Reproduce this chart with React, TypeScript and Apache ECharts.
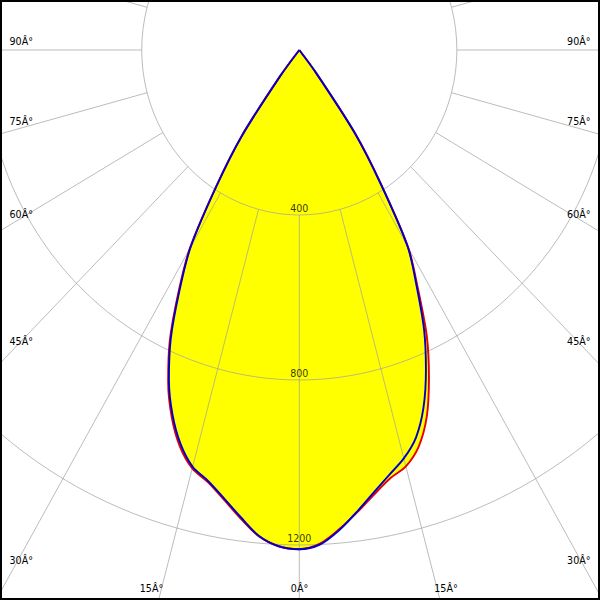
import React, { useEffect, useRef } from "react";
import * as echarts from "echarts";

// Half-plane angles (degrees from nadir) and intensities (cd)
const ANGLES = [0, 2.5, 5, 7.5, 10, 12.5, 15, 17.5, 20, 22.5, 25, 27.5, 30, 32.5, 35, 37.5, 40, 45, 60, 90, 120, 150, 180];
const BLUE_RIGHT = [1210, 1200, 1168, 1128, 1089, 1055, 1025, 985, 922, 840, 750, 645, 550, 385, 245, 70, 0, 0, 0, 0, 0, 0, 0];
const BLUE_LEFT = [1210, 1204, 1182, 1142, 1103, 1070, 1046, 1002, 941, 865, 772, 660, 552, 392, 255, 80, 0, 0, 0, 0, 0, 0, 0];
const RED_RIGHT = [1210, 1198, 1166, 1130, 1094, 1064, 1045, 1008, 946, 860, 766, 652, 553, 387, 246, 70, 0, 0, 0, 0, 0, 0, 0];
const RED_LEFT = [1212, 1204, 1183, 1145, 1106, 1073, 1050, 1008, 947, 870, 778, 666, 556, 394, 256, 80, 0, 0, 0, 0, 0, 0, 0];

const RADIUS_TICKS = [400, 800, 1200];
const SPOKE_ANGLES = [-165, -150, -135, -120, -105, -90, -75, -60, -45, -30, -15, 0, 15, 30, 45, 60, 75, 90, 105, 120, 135, 150, 165, 180];
const EDGE_LEFT = ["90Â°", "75Â°", "60Â°", "45Â°", "30Â°"];
const EDGE_BOTTOM = ["15Â°", "0Â°", "15Â°"];

// layout
const K = 0.955; // horizontal / vertical scale of the picture
const W = 600 / K;
const CX = 299.3 / K;
const CY = 50;
const RMAX = 1600;
const PX_PER_CD = 0.4125;
const GRID = "rgba(160,160,160,0.72)";
const FONT = '10px "DejaVu Sans", sans-serif';
const EDGE_LEFT_Y = [41.5, 121.5, 214.5, 341.5, 560.5];
const EDGE_BOTTOM_X = [151.5, 299.5, 446];
const EDGE_BOTTOM_Y = 588;
const SMOOTH = 0.3;

function curve(left: number[], right: number[]) {
  const pts: number[][] = [];
  for (let i = ANGLES.length - 1; i > 0; i--) pts.push([left[i], -ANGLES[i]]);
  for (let i = 0; i < ANGLES.length; i++) pts.push([right[i], ANGLES[i]]);
  return pts;
}

export default function App() {
  const ref = useRef<HTMLDivElement>(null);
  useEffect(() => {
    if (!ref.current) return;
    const chart = echarts.init(ref.current, undefined, { renderer: "svg" });
    const red = curve(RED_LEFT, RED_RIGHT);
    const blue = curve(BLUE_LEFT, BLUE_RIGHT);

    const fill = (data: number[][]) => ({
      type: "line",
      coordinateSystem: "polar",
      data,
      symbol: "none",
      silent: true,
      smooth: SMOOTH,
      z: 1,
      lineStyle: { width: 0, opacity: 0 },
      areaStyle: { color: "#ffff00", opacity: 1 },
    });
    const stroke = (data: number[][], color: string, z: number) => ({
      type: "line",
      coordinateSystem: "polar",
      data,
      symbol: "none",
      silent: true,
      smooth: SMOOTH,
      z,
      lineStyle: { width: 2, color },
    });
    const spokes = SPOKE_ANGLES.map((a) => ({
      type: "line",
      coordinateSystem: "polar",
      data: [
        [RADIUS_TICKS[0], a],
        [RMAX, a],
      ],
      symbol: "none",
      silent: true,
      z: 4,
      lineStyle: { width: 1, color: GRID },
    }));

    const graphics: any[] = [];
    EDGE_LEFT.forEach((t, i) => {
      graphics.push({
        type: "text",
        x: 9.5 / K,
        y: EDGE_LEFT_Y[i],
        z: 10,
        style: { text: t, font: FONT, fill: "#000", align: "left", textAlign: "left", verticalAlign: "middle", textVerticalAlign: "middle" },
      });
      graphics.push({
        type: "text",
        x: 590.5 / K,
        y: EDGE_LEFT_Y[i],
        z: 10,
        style: { text: t, font: FONT, fill: "#000", align: "right", textAlign: "right", verticalAlign: "middle", textVerticalAlign: "middle" },
      });
    });
    EDGE_BOTTOM.forEach((t, i) => {
      graphics.push({
        type: "text",
        x: EDGE_BOTTOM_X[i] / K,
        y: EDGE_BOTTOM_Y,
        z: 10,
        style: { text: t, font: FONT, fill: "#000", align: "center", textAlign: "center", verticalAlign: "middle", textVerticalAlign: "middle" },
      });
    });

    chart.setOption({
      animation: false,
      backgroundColor: "#ffffff",
      polar: { center: [CX, CY], radius: RMAX * PX_PER_CD },
      angleAxis: {
        type: "value",
        min: -180,
        max: 180,
        startAngle: 90,
        clockwise: false,
        axisLine: { show: false },
        axisTick: { show: false },
        axisLabel: { show: false },
        splitLine: { show: false },
      },
      radiusAxis: {
        type: "value",
        min: 0,
        max: RMAX,
        interval: 400,
        z: 4,
        axisLine: { show: false },
        axisTick: { show: false },
        axisLabel: { show: false },
        splitLine: { show: true, lineStyle: { color: GRID, width: 1 } },
      },
      series: [
        fill(red),
        fill(blue),
        ...spokes,
        stroke(red, "#e60000", 5),
        stroke(blue, "#0000cc", 6),
        {
          type: "scatter",
          coordinateSystem: "polar",
          data: RADIUS_TICKS.map((r) => [r, 0]),
          symbolSize: 0,
          silent: true,
          z: 8,
          label: {
            show: true,
            position: "top",
            distance: 2,
            formatter: (p: any) => String(p.value[0]),
            color: "#000",
            fontSize: 10,
            fontFamily: '"DejaVu Sans", sans-serif',
          },
        },
      ],
      graphic: graphics,
    });
    return () => chart.dispose();
  }, []);

  return (
    <div style={{ position: "fixed", left: 0, top: 0, width: 600, height: 600, overflow: "hidden", background: "#fff" }}>
      <div
        ref={ref}
        style={{ position: "absolute", left: 0, top: 0, width: W, height: 600, transform: `scaleX(${K})`, transformOrigin: "0 0" }}
      />
      <div
        style={{ position: "absolute", left: 0, top: 0, width: 600, height: 600, border: "2px solid #000", boxSizing: "border-box", pointerEvents: "none" }}
      />
    </div>
  );
}
